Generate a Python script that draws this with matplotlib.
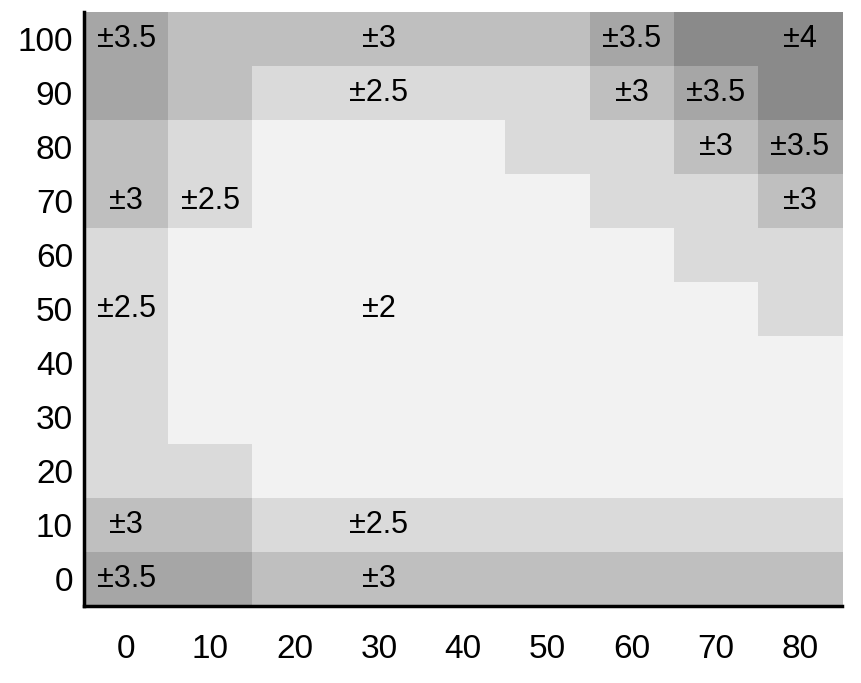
import matplotlib
matplotlib.use("Agg")
import matplotlib.pyplot as plt
import numpy as np
from matplotlib.colors import ListedColormap, BoundaryNorm

x_labels = [0, 10, 20, 30, 40, 50, 60, 70, 80]
y_labels = [0, 10, 20, 30, 40, 50, 60, 70, 80, 90, 100]
# rows from y=0 to y=100
grid = [
    [3.5, 3.5, 3, 3, 3, 3, 3, 3, 3],
    [3, 3, 2.5, 2.5, 2.5, 2.5, 2.5, 2.5, 2.5],
    [2.5, 2.5, 2, 2, 2, 2, 2, 2, 2],
    [2.5, 2, 2, 2, 2, 2, 2, 2, 2],
    [2.5, 2, 2, 2, 2, 2, 2, 2, 2],
    [2.5, 2, 2, 2, 2, 2, 2, 2, 2.5],
    [2.5, 2, 2, 2, 2, 2, 2, 2.5, 2.5],
    [3, 2.5, 2, 2, 2, 2, 2.5, 2.5, 3],
    [3, 2.5, 2, 2, 2, 2.5, 2.5, 3, 3.5],
    [3.5, 3, 2.5, 2.5, 2.5, 2.5, 3, 3.5, 4],
    [3.5, 3, 3, 3, 3, 3, 3.5, 4, 4],
]
labels = [(0, 100, "±3.5"), (3, 100, "±3"), (6, 100, "±3.5"), (8, 100, "±4"),
          (3, 90, "±2.5"), (6, 90, "±3"), (7, 90, "±3.5"),
          (7, 80, "±3"), (8, 80, "±3.5"),
          (0, 70, "±3"), (1, 70, "±2.5"), (8, 70, "±3"),
          (0, 50, "±2.5"), (3, 50, "±2"),
          (0, 10, "±3"), (3, 10, "±2.5"),
          (0, 0, "±3.5"), (3, 0, "±3")]

colors = ["#f2f2f2", "#dadada", "#bfbfbf", "#a6a6a6", "#8a8a8a"]
cmap = ListedColormap(colors)
norm = BoundaryNorm([1.75, 2.25, 2.75, 3.25, 3.75, 4.25], cmap.N)

plt.rcParams['font.family'] = ['Liberation Sans Narrow', 'Liberation Sans', 'DejaVu Sans']
fig = plt.figure(figsize=(8.62, 6.83), dpi=100)
ax = fig.add_axes([0.0975, 0.113, 0.8795, 0.869])
ax.imshow(np.array(grid), cmap=cmap, norm=norm, origin="lower", aspect="auto",
          extent=(-0.5, len(x_labels) - 0.5, -0.5, len(y_labels) - 0.5))
for xi, yv, t in labels:
    ax.text(xi, y_labels.index(yv), t, ha="center", va="center", fontsize=22)
ax.set_xticks(range(len(x_labels)))
ax.set_xticklabels([str(v) for v in x_labels], fontsize=24)
ax.set_yticks(range(len(y_labels)))
ax.set_yticklabels([str(v) for v in y_labels], fontsize=24)
ax.tick_params(length=0, pad=8)
ax.tick_params(axis='x', pad=20)
for s in ["top", "right"]:
    ax.spines[s].set_visible(False)
for s in ["left", "bottom"]:
    ax.spines[s].set_linewidth(2.5)
fig.savefig("out.png", dpi=100)
